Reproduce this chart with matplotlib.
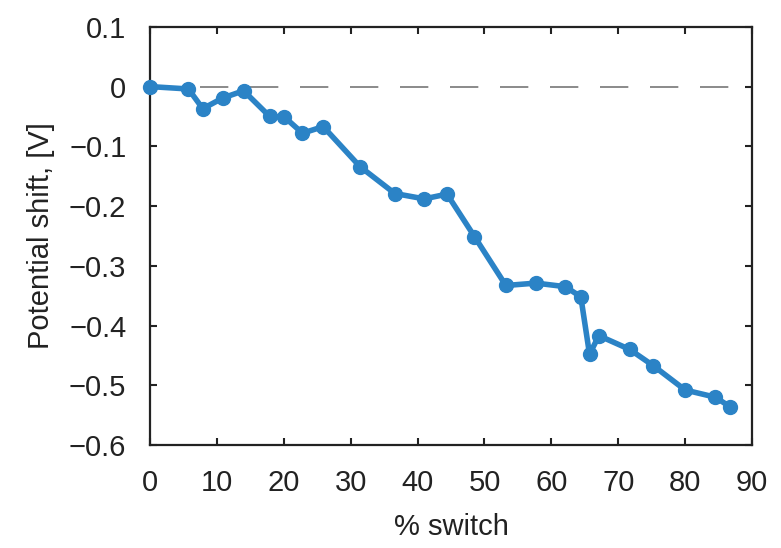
import matplotlib
matplotlib.use("Agg")
import matplotlib.pyplot as plt
import numpy as np

# % switch vs potential shift
switch = [0, 5.75, 7.9, 10.9, 14.0, 17.9, 20.1, 22.8, 25.9, 31.4, 36.6, 41.0, 44.4,
          48.5, 53.2, 57.7, 62.1, 64.4, 65.7, 67.1, 71.7, 75.2, 80.0, 84.5, 86.7]
shift = [0.0, -0.004, -0.037, -0.019, -0.007, -0.050, -0.051, -0.078, -0.067, -0.134,
         -0.179, -0.188, -0.180, -0.251, -0.333, -0.329, -0.335, -0.352, -0.448, -0.417,
         -0.440, -0.467, -0.508, -0.520, -0.536]
xticks = [0, 10, 20, 30, 40, 50, 60, 70, 80, 90]
yticks = [0.1, 0, -0.1, -0.2, -0.3, -0.4, -0.5, -0.6]

plt.rcParams['font.family'] = ['Liberation Sans', 'DejaVu Sans']

fig = plt.figure(figsize=(7.81, 5.48), dpi=100)
ax = fig.add_axes([0.192, 0.188, 0.771, 0.763])

# dashed zero reference
ax.plot([0, 86.7], [0, 0], color='#777777', lw=1.2, ls=(0, (17, 13)), zorder=1)
ax.plot(switch, shift, color='#2b83c6', lw=4, marker='o', ms=10, clip_on=False, zorder=3)

ax.set_xlim(0, 90)
ax.set_ylim(-0.6, 0.1)
ax.set_xticks(xticks)
ax.set_yticks(yticks)
ax.set_yticklabels(['0.1', '0', '\u22120.1', '\u22120.2', '\u22120.3', '\u22120.4', '\u22120.5', '\u22120.6'])
ax.tick_params(direction='in', top=True, right=True, labelsize=21, length=5, width=1.5,
               colors='#222222', pad=17)
for s in ax.spines.values():
    s.set_linewidth(1.6)
    s.set_color('#222222')

ax.set_xlabel('% switch', fontsize=21, labelpad=12, color='#222222')
ax.set_ylabel('Potential shift, [V]', fontsize=21, labelpad=10, color='#222222')

fig.savefig('out.png', dpi=100)
